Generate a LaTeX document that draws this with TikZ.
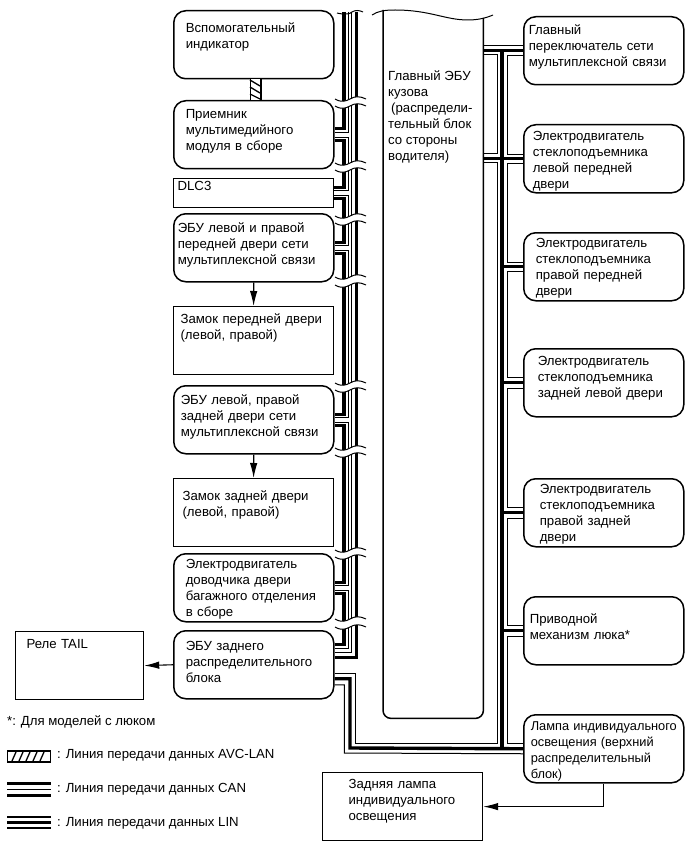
\documentclass[tikz,border=0pt]{standalone}
\usepackage{fontspec}
\setmainfont{Liberation Sans}
\usetikzlibrary{positioning,arrows.meta}

\newcommand{\buswave}[2]{
  \fill [white] (335,#1+1) .. controls (342,#1+5) and (346,#1+3) .. (350,#1+1) .. controls (355,#1-2) and (360,#1-2) .. (366,#1+1)
    -- (366,#2+1) .. controls (360,#2-2) and (355,#2-2) .. (350,#2+1) .. controls (346,#2+3) and (342,#2+5) .. (335,#2+1) -- cycle;
  \draw [thin line] (335,#1+1) .. controls (342,#1+5) and (346,#1+3) .. (350,#1+1) .. controls (355,#1-2) and (360,#1-2) .. (366,#1+1);
  \draw [thin line] (335,#2+1) .. controls (342,#2+5) and (346,#2+3) .. (350,#2+1) .. controls (355,#2-2) and (360,#2-2) .. (366,#2+1);
}

\begin{document}
\begin{tikzpicture}[x=1pt,y=-1pt,
    font=\fontsize{13.2}{16}\selectfont,
    round box/.style 2 args={draw, line width=1.5pt, rounded corners=12pt, anchor=north west, align=left,
        inner xsep=#1pt, inner ysep=#2pt, text width=160pt-2*#1pt, text height=9pt, text depth=68pt-2*#2pt-9pt},
    plain box/.style 2 args={round box={#1}{#2}, sharp corners, line width=1.2pt},
    can line/.style={line width=3.4pt},
    thin line/.style={line width=1pt},
    arrow line/.style={line width=1.1pt, -{Latex[length=15pt,width=7.5pt]}},
    key text/.style={anchor=base west, inner sep=0pt}
    ]
    \useasboundingbox (0,0) rectangle (690,853);

    % left column
    \node [round box={12}{13}] (aux) at (173,10) {Вспомогательный\\индикатор};
    \node [round box={12}{9}] (recv) at (173,100) {Приемник\\мультимедийного\\модуля в сборе};
    \node [plain box={4}{3}, text depth=29pt-6pt-9pt] (dlc) at (173,178) {DLC3};
    \node [round box={4}{10}] (frontecu) at (173,213) {ЭБУ левой и правой\\передней двери сети\\мультиплексной связи};
    \node [plain box={7}{8}] (frontlock) at (173,306) {Замок передней двери\\(левой, правой)};
    \node [round box={7}{10}] (rearecu) at (173,385) {ЭБУ левой, правой\\задней двери сети\\мультиплексной связи};
    \node [plain box={9}{13}] (rearlock) at (173,478) {Замок задней двери\\(левой, правой)};
    \node [round box={12}{6}] (trunk) at (173,553) {Электродвигатель\\доводчика двери\\багажного отделения\\в сборе};
    \node [round box={12}{11}] (block) at (173,630) {ЭБУ заднего\\распределительного\\блока};
    \node [plain box={11}{8}, text width=128pt-22pt] (tail) at (15,631) {Реле TAIL};

    % main unit
    \node [anchor=north west, inner sep=0pt, minimum width=100pt, minimum height=705pt] (ecu) at (383,13) {};
    \node [anchor=north west, inner sep=0pt, align=left] (ecutext) at (388,71) {Главный ЭБУ\\кузова\\\hspace*{3pt}(распредели-\\тельный блок\\со стороны\\водителя)};
    \draw [line width=1.5pt, rounded corners=8pt] ([yshift=3pt]ecu.north west) -- (ecu.south west) -- (ecu.south east) -- ([yshift=-5pt]ecu.north east);
    \draw [thin line] (372,15) .. controls (378,11) and (385,10) .. (395,10) .. controls (430,10) and (445,20) .. (468,20) .. controls (478,20) and (486,18) .. (493,15);

    % right column
    \node [round box={5}{9}] (mainsw) at (523,16) {Главный\\переключатель сети\\мультиплексной связи};
    \node [round box={9}{7}] (winfl) at (523,124) {Электродвигатель\\стеклоподъемника\\левой передней\\двери};
    \node [round box={12}{6}] (winfr) at (523,232) {Электродвигатель\\стеклоподъемника\\правой передней\\двери};
    \node [round box={14}{8}] (winrl) at (523,348) {Электродвигатель\\стеклоподъемника\\задней левой двери};
    \node [round box={16}{6}] (winrr) at (523,478) {Электродвигатель\\стеклоподъемника\\правой задней\\двери};
    \node [round box={6}{18}] (roof) at (523,596) {Приводной\\механизм люка*};
    \node [round box={7}{7}, font=\fontsize{12.8}{16}\selectfont] (lamp) at (523,714) {\mbox{Лампа индивидуального}\\освещения (верхний\\распределительный\\блок)};
    \node [plain box={26}{7}] (rearlamp) at (322,772) {\mbox{Задняя лампа}\\\mbox{индивидуального}\\освещения};

    % left bus
    \draw [can line] (344,12) |- ([yshift=6.5pt]recv.east);
    \draw [can line] ([yshift=-5.5pt]recv.east) -| (344,170) |- ([yshift=5.5pt]dlc.east);
    \draw [can line] ([yshift=-5.5pt]dlc.east) -| (344,218) |- ([yshift=5.5pt]frontecu.east);
    \draw [can line] ([yshift=-5.5pt]frontecu.east) -| (344,330) |- ([yshift=5.5pt]rearecu.east);
    \draw [can line] ([yshift=-5.5pt]rearecu.east) -| (344,500) |- ([yshift=5.5pt]trunk.east);
    \draw [can line] ([yshift=-5.5pt]trunk.east) -| (344,620) |- ([yshift=20pt]block.east);
    \draw [thin line] (348.5,12) |- ([yshift=2.5pt]recv.east);
    \draw [thin line] ([yshift=-2.5pt]recv.east) -| (348.5,170) |- ([yshift=2.5pt]dlc.east);
    \draw [thin line] ([yshift=-2.5pt]dlc.east) -| (348.5,218) |- ([yshift=2.5pt]frontecu.east);
    \draw [thin line] ([yshift=-2.5pt]frontecu.east) -| (348.5,330) |- ([yshift=2.5pt]rearecu.east);
    \draw [thin line] ([yshift=-2.5pt]rearecu.east) -| (348.5,500) |- ([yshift=2.5pt]trunk.east);
    \draw [thin line] ([yshift=-2.5pt]trunk.east) -| (348.5,620) |- ([yshift=16pt]block.east);
    \draw [thin line] (351.5,12) |- ([yshift=12pt]block.east);
    \draw [can line] (356.5,12) |- ([yshift=7pt]block.east);
    \buswave{98}{105}
    \buswave{162}{169}
    \buswave{215}{222}
    \buswave{276}{284}
    \buswave{382}{389}
    \buswave{447}{454}
    \buswave{549}{556}
    \buswave{618}{626}
    \draw [thin line] (337,13) .. controls (345,15) and (350,14) .. (352,12) .. controls (355,10) and (359,10) .. (363,12);

    % right bus
    \draw [can line] (mainsw.west) -- ++(-40,0);
    \draw [can line] (winfl.west) -- ++(-40,0);
    \draw [can line] (502,50) -- (502,748);
    \draw [can line] (winfr.west) -- ++(-21,0);
    \draw [can line] (winrl.west) -- ++(-21,0);
    \draw [can line] (winrr.west) -- ++(-21,0);
    \draw [can line] (roof.west) -- ++(-21,0);
    \draw [can line] ([yshift=-14pt]block.east) -| (350,748) -- (lamp.west);
    \draw [thin line] ([yshift=5pt]mainsw.west) -- ++(-40,0);
    \draw [thin line] (ecu.east |- 0,55) -| (497.7,100) |- (ecu.east |- 0,154);
    \draw [thin line] ([yshift=-9pt]block.east) -| (355,743) -| (497.7,400) |- (ecu.east |- 0,163);
    \draw [thin line] ([yshift=-20pt]block.east) -| (344.3,753) -- ([yshift=-5pt]lamp.west);
    \draw [thin line] ([yshift=-5pt]mainsw.west) -| (507.5,100) |- ([yshift=4.5pt]winfl.west);
    \draw [thin line] ([yshift=-4.5pt]winfl.west) -| (507.5,200) |- ([yshift=4.5pt]winfr.west);
    \draw [thin line] ([yshift=-5pt]winfr.west) -| (507.5,300) |- ([yshift=5.5pt]winrl.west);
    \draw [thin line] ([yshift=-5.5pt]winrl.west) -| (507.5,450) |- ([yshift=5.5pt]winrr.west);
    \draw [thin line] ([yshift=-5.5pt]winrr.west) -| (507.5,570) |- ([yshift=5pt]roof.west);
    \draw [thin line] ([yshift=-6pt]roof.west) -| (507.5,700) |- ([yshift=5pt]lamp.west);

    % data line between the display and the receiver
    \draw [line width=1.6pt, double=white, double distance=9pt] ([xshift=2pt]aux.south) -- ([xshift=2pt]recv.north);
    \draw [line width=1.3pt] (250,80) -- (260,86) (250,87) -- (260,93) (250,94) -- (260,99);

    % arrows
    \draw [arrow line] (frontecu.south) -- (frontlock.north);
    \draw [arrow line] (rearecu.south) -- (rearlock.north);
    \draw [arrow line] (block.west) -- (tail.east);
    \draw [arrow line] (lamp.south) |- (rearlamp.east);

    % notes and key
    \node [key text] (note) at (7,725) {*: Для моделей с люком};
    \node [draw, line width=1.9pt, minimum width=43pt, minimum height=11pt, inner sep=0pt] (avckey) at (29,756.5) {};
    \draw [line width=1.3pt] (12,761) -- (16,752) (19,761) -- (23,752) (26,761) -- (30,752) (33,761) -- (37,752) (40,761) -- (44,752);
    \node [key text] (avctext) at (57,758) {: Линия передачи данных AVC-LAN};
    \draw [can line] (7,783.5) -- (51,783.5) (7,795.5) -- (51,795.5);
    \draw [line width=1.1pt] (7,789.5) -- (51,789.5);
    \node [key text] (cantext) at (57,792) {: Линия передачи данных CAN};
    \draw [line width=1.1pt] (7,817) -- (51,817) (7,828) -- (51,828);
    \draw [can line] (7,822.5) -- (51,822.5);
    \node [key text] (lintext) at (57,826) {: Линия передачи данных LIN};
\end{tikzpicture}
\end{document}
